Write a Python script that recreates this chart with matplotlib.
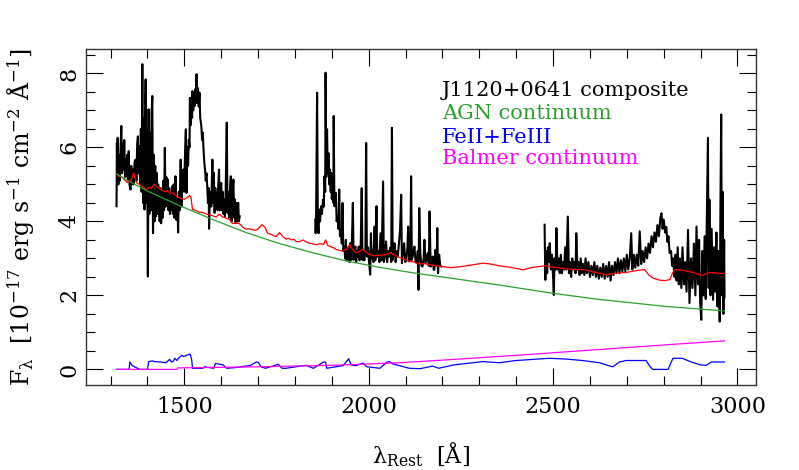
import matplotlib
matplotlib.use("Agg")
import matplotlib.pyplot as plt
from matplotlib.ticker import MultipleLocator

plt.rcParams['font.family'] = ['DejaVu Serif']
plt.rcParams['mathtext.fontset'] = 'dejavuserif'

# observed composite, three wavelength chunks (Angstrom, 1e-17 flux)
wave_1 = [1316, 1317, 1318, 1319, 1321, 1323, 1325, 1327, 1329, 1331, 1333, 1335, 1337, 1339,
          1341, 1343, 1345, 1347, 1349, 1351, 1354, 1356, 1358, 1360, 1362, 1365, 1368, 1370,
          1372, 1374, 1376, 1378, 1380, 1382, 1384, 1386, 1388, 1390, 1392, 1394, 1395, 1397,
          1399, 1401, 1403, 1405, 1407, 1409, 1411, 1413, 1415, 1417, 1419, 1421, 1423, 1425,
          1427, 1429, 1431, 1433, 1435, 1437, 1439, 1441, 1443, 1445, 1447, 1449, 1451, 1453,
          1455, 1457, 1459, 1461, 1463, 1465, 1467, 1469, 1471, 1473, 1476, 1478, 1481, 1483,
          1485, 1487, 1490, 1492, 1494, 1497, 1499, 1502, 1504, 1506, 1508, 1510, 1512, 1514,
          1515, 1517, 1519, 1521, 1522, 1524, 1526, 1528, 1529, 1531, 1533, 1535, 1537, 1539,
          1541, 1543, 1546, 1548, 1550, 1552, 1554, 1556, 1558, 1560, 1562, 1564, 1566, 1567,
          1569, 1571, 1573, 1576, 1578, 1580, 1582, 1584, 1586, 1588, 1590, 1592, 1594, 1596,
          1598, 1600, 1602, 1604, 1606, 1608, 1610, 1612, 1615, 1617, 1619, 1621, 1624, 1626,
          1628, 1630, 1633, 1635, 1637, 1639, 1641, 1643, 1646, 1648, 1650]
flux_1 = [4.41, 6.12, 5.2, 6.26, 5.0, 5.8, 5.1, 6.0, 6.58, 5.3, 6.1, 5.4, 6.2, 5.2,
          5.67, 5.22, 5.8, 5.1, 5.9, 5.0, 4.86, 5.5, 5.0, 5.4, 5.0, 5.6, 5.67, 5.1,
          6.1, 6.3, 5.3, 6.03, 5.0, 6.5, 4.8, 8.25, 4.5, 6.8, 4.32, 7.2, 7.84, 4.5,
          6.5, 2.51, 7.03, 4.2, 6.4, 4.3, 6.9, 7.39, 3.68, 5.8, 4.0, 5.5, 4.14, 5.31,
          4.2, 5.0, 4.59, 4.0, 4.9, 3.95, 4.8, 4.1, 5.1, 4.3, 5.99, 4.4, 5.2, 4.5,
          5.13, 4.3, 4.9, 4.2, 4.77, 4.3, 4.95, 4.2, 5.0, 4.1, 5.22, 4.04, 4.6, 3.7,
          4.8, 4.3, 5.67, 4.4, 5.2, 5.4, 4.8, 5.9, 6.49, 4.77, 6.0, 5.5, 6.21, 6.0,
          7.34, 6.6, 7.1, 6.8, 7.52, 7.0, 7.4, 7.12, 7.57, 7.2, 7.98, 7.21, 7.6, 7.1,
          7.48, 6.8, 6.58, 6.2, 6.4, 5.94, 5.6, 5.4, 5.1, 5.3, 4.95, 4.5, 4.9, 3.8,
          4.59, 4.8, 4.4, 5.67, 4.5, 5.31, 4.23, 4.9, 4.4, 4.77, 4.3, 5.0, 5.4, 4.3,
          4.9, 5.04, 4.3, 4.8, 4.2, 4.59, 4.14, 4.8, 6.67, 4.23, 4.8, 4.1, 4.9, 5.22,
          4.0, 4.7, 5.13, 4.1, 4.6, 3.95, 4.5, 4.0, 4.5, 4.0, 4.14]

wave_2 = [1855, 1856, 1857, 1860, 1862, 1864, 1866, 1868, 1871, 1873, 1876, 1878, 1880, 1882,
          1883, 1885, 1887, 1889, 1891, 1893, 1895, 1897, 1898, 1900, 1902, 1904, 1905, 1907,
          1909, 1911, 1913, 1916, 1918, 1920, 1922, 1925, 1927, 1929, 1931, 1934, 1936, 1938,
          1940, 1943, 1945, 1948, 1950, 1952, 1954, 1957, 1959, 1961, 1964, 1966, 1968, 1970,
          1973, 1975, 1978, 1981, 1983, 1985, 1988, 1991, 1993, 1995, 1998, 2001, 2004, 2006,
          2008, 2011, 2013, 2016, 2018, 2021, 2023, 2026, 2029, 2032, 2035, 2039, 2041, 2044,
          2047, 2050, 2053, 2056, 2059, 2061, 2063, 2065, 2068, 2070, 2073, 2076, 2079, 2082,
          2085, 2088, 2090, 2093, 2096, 2099, 2102, 2105, 2107, 2110, 2113, 2115, 2117, 2120,
          2124, 2127, 2131, 2133, 2135, 2137, 2140, 2143, 2146, 2149, 2151, 2154, 2157, 2160,
          2163, 2165, 2168, 2171, 2174, 2176, 2178, 2181, 2184, 2186, 2188, 2191, 2194, 2197]
flux_2 = [4.05, 3.68, 3.86, 7.48, 3.9, 3.68, 4.32, 4.0, 4.41, 4.2, 4.59, 4.4, 5.22, 4.8,
          8.02, 5.2, 6.49, 5.3, 5.85, 5.0, 5.4, 4.8, 5.31, 4.6, 4.95, 4.5, 6.85, 4.41,
          4.5, 4.77, 4.0, 4.14, 3.8, 4.86, 3.6, 3.77, 3.4, 4.5, 3.2, 3.32, 3.0, 3.5,
          2.95, 3.05, 3.3, 2.9, 3.41, 2.96, 3.3, 4.5, 2.96, 3.2, 3.32, 2.9, 3.2, 3.05,
          3.32, 2.95, 3.2, 4.9, 2.96, 3.2, 2.95, 3.3, 6.12, 3.05, 3.3, 2.9, 2.56, 3.68,
          3.0, 3.23, 2.9, 3.86, 2.95, 4.41, 3.05, 3.2, 2.9, 3.68, 2.95, 5.08, 2.9, 3.05,
          3.46, 2.9, 3.2, 3.05, 3.3, 2.9, 6.53, 2.96, 3.2, 3.41, 2.9, 3.2, 3.05, 3.4,
          3.77, 4.72, 2.87, 3.2, 3.41, 2.9, 2.96, 3.3, 3.86, 2.92, 3.2, 5.22, 2.96, 3.1,
          3.32, 2.9, 2.87, 3.2, 2.15, 4.36, 3.14, 2.8, 2.78, 3.0, 3.5, 2.87, 3.0, 3.14,
          2.8, 4.27, 2.78, 3.0, 3.05, 2.7, 2.69, 3.23, 2.8, 3.82, 2.6, 3.1, 2.8, 2.78]

wave_3 = [2477, 2479, 2481, 2484, 2486, 2489, 2491, 2494, 2497, 2500, 2502, 2504, 2507, 2509,
          2512, 2515, 2518, 2521, 2524, 2527, 2530, 2533, 2536, 2540, 2543, 2546, 2549, 2552,
          2555, 2558, 2561, 2563, 2566, 2569, 2572, 2575, 2578, 2581, 2585, 2588, 2592, 2596,
          2600, 2604, 2608, 2612, 2616, 2620, 2624, 2628, 2632, 2636, 2640, 2644, 2648, 2652,
          2656, 2660, 2664, 2668, 2672, 2676, 2680, 2684, 2688, 2692, 2696, 2700, 2704, 2708,
          2712, 2715, 2719, 2723, 2727, 2731, 2735, 2739, 2743, 2747, 2751, 2755, 2759, 2763,
          2767, 2771, 2775, 2779, 2783, 2787, 2791, 2794, 2797, 2800, 2804, 2807, 2810, 2813,
          2816, 2820, 2823, 2826, 2829, 2832, 2835, 2838, 2841, 2844, 2848, 2851, 2855, 2858,
          2862, 2866, 2870, 2874, 2878, 2882, 2886, 2889, 2893, 2896, 2899, 2902, 2905, 2908,
          2911, 2914, 2917, 2920, 2922, 2924, 2927, 2930, 2934, 2937, 2940, 2943, 2946, 2949,
          2952, 2954, 2956, 2958, 2960, 2962, 2964, 2965]
flux_3 = [3.91, 2.42, 3.2, 2.6, 3.3, 2.9, 3.41, 2.7, 3.1, 2.5, 2.01, 3.0, 2.7, 3.82,
          2.7, 3.0, 2.6, 3.1, 2.6, 2.9, 2.7, 3.3, 2.7, 4.13, 2.6, 2.9, 2.5, 3.0,
          2.7, 2.9, 2.6, 3.68, 2.7, 2.9, 2.55, 3.0, 2.6, 2.85, 2.55, 3.0, 2.6, 2.9,
          2.5, 2.8, 2.55, 2.9, 2.5, 2.8, 2.45, 2.75, 2.5, 2.85, 2.45, 2.8, 2.5, 2.9,
          2.4, 2.8, 2.55, 2.9, 2.6, 3.0, 2.6, 2.95, 2.65, 3.0, 2.65, 3.1, 2.7, 3.0,
          3.68, 2.7, 3.1, 2.75, 3.1, 2.8, 3.73, 2.85, 3.2, 2.9, 3.3, 3.0, 3.4, 3.15,
          3.6, 3.3, 3.7, 3.45, 3.9, 3.6, 4.1, 4.22, 3.8, 4.05, 3.7, 3.85, 3.45, 3.6,
          3.15, 3.2, 2.8, 3.0, 2.5, 3.1, 2.4, 3.3, 2.3, 3.0, 2.2, 3.3, 2.3, 2.9,
          2.1, 3.77, 1.79, 3.0, 2.2, 3.4, 2.0, 3.86, 2.3, 3.5, 1.8, 1.34, 3.2, 2.0,
          3.6, 1.9, 4.0, 6.26, 2.2, 4.59, 2.0, 3.8, 1.88, 3.3, 2.1, 3.7, 1.7, 3.2,
          1.29, 4.5, 6.89, 2.0, 4.8, 1.5, 3.5, 1.95]

# total model (red)
model_wave = [1316, 1322, 1330, 1338, 1345, 1355, 1362, 1370, 1378, 1385, 1397, 1404, 1410, 1418,
              1424, 1430, 1438, 1447, 1455, 1462, 1468, 1474, 1482, 1490, 1500, 1508, 1514, 1518,
              1522, 1530, 1540, 1550, 1560, 1568, 1577, 1586, 1595, 1603, 1610, 1622, 1631, 1640,
              1649, 1658, 1667, 1676, 1685, 1693, 1700, 1710, 1718, 1726, 1737, 1749, 1758, 1766,
              1776, 1783, 1790, 1797, 1803, 1812, 1821, 1830, 1839, 1846, 1853, 1860, 1868, 1878,
              1883, 1889, 1900, 1906, 1912, 1920, 1930, 1940, 1948, 1956, 1966, 1975, 1984, 1993,
              2002, 2015, 2029, 2045, 2061, 2072, 2083, 2095, 2110, 2125, 2137, 2150, 2170, 2185,
              2198, 2222, 2245, 2264, 2285, 2309, 2330, 2354, 2384, 2400, 2418, 2430, 2445, 2462,
              2481, 2500, 2520, 2535, 2560, 2589, 2615, 2644, 2670, 2698, 2720, 2748, 2760, 2771,
              2790, 2805, 2817, 2824, 2830, 2852, 2865, 2880, 2903, 2915, 2925, 2945, 2965]
model_flux = [5.29, 5.22, 5.2, 5.12, 5.05, 5.1, 5.31, 5.05, 5.0, 4.95, 4.86, 4.92, 4.9, 5.0,
              4.95, 4.9, 4.85, 4.8, 4.83, 4.75, 4.78, 4.72, 4.66, 4.62, 4.6, 4.65, 4.7, 4.65,
              4.32, 4.3, 4.25, 4.24, 4.2, 4.18, 4.15, 4.12, 4.2, 4.12, 4.1, 4.05, 3.94, 3.96,
              3.94, 3.85, 3.79, 3.8, 3.78, 3.76, 3.8, 3.91, 3.85, 3.68, 3.64, 3.59, 3.7, 3.6,
              3.52, 3.54, 3.5, 3.52, 3.46, 3.45, 3.5, 3.45, 3.41, 3.4, 3.38, 3.37, 3.4, 3.38,
              3.5, 3.35, 3.3, 3.28, 3.24, 3.22, 3.2, 3.25, 3.37, 3.25, 3.15, 3.2, 3.24, 3.17,
              3.1, 3.07, 3.08, 3.1, 3.15, 3.08, 3.03, 2.98, 2.92, 2.9, 2.85, 2.86, 2.82, 2.8,
              2.78, 2.75, 2.77, 2.8, 2.83, 2.87, 2.85, 2.8, 2.76, 2.73, 2.69, 2.72, 2.76, 2.78,
              2.8, 2.76, 2.74, 2.72, 2.7, 2.69, 2.62, 2.56, 2.6, 2.62, 2.66, 2.7, 2.55, 2.47,
              2.41, 2.4, 2.43, 2.6, 2.7, 2.68, 2.65, 2.62, 2.54, 2.58, 2.62, 2.6, 2.59]

# power-law AGN continuum (green)
agn_wave = [1316, 1351, 1400, 1486, 1577, 1667, 1758, 1849, 1939, 2029, 2120, 2198, 2354, 2497,
            2626, 2807, 2965]
agn_flux = [5.28, 5.08, 4.82, 4.43, 4.05, 3.7, 3.4, 3.15, 2.93, 2.76, 2.61, 2.5, 2.28, 2.06,
            1.89, 1.7, 1.58]

# FeII + FeIII template (blue)
fe_wave = [1316, 1350, 1352, 1358, 1365, 1373, 1380, 1400, 1403, 1413, 1420, 1435, 1450, 1460,
           1465, 1470, 1474, 1480, 1484, 1493, 1497, 1502, 1508, 1516, 1520, 1522, 1550, 1555,
           1580, 1584, 1590, 1605, 1615, 1640, 1680, 1695, 1701, 1708, 1720, 1755, 1758, 1765,
           1775, 1830, 1850, 1878, 1883, 1886, 1930, 1940, 1946, 1952, 1965, 1984, 1995, 2030,
           2050, 2056, 2065, 2110, 2140, 2173, 2190, 2230, 2274, 2309, 2354, 2400, 2445, 2490,
           2535, 2580, 2626, 2645, 2662, 2680, 2698, 2752, 2765, 2771, 2812, 2825, 2850, 2875,
           2900, 2915, 2930, 2965]
fe_flux = [0.0, 0.0, 0.2, 0.11, 0.07, 0.03, 0.0, 0.0, 0.21, 0.23, 0.21, 0.2, 0.18, 0.27,
           0.2, 0.22, 0.3, 0.24, 0.3, 0.38, 0.35, 0.36, 0.39, 0.41, 0.25, 0.03, 0.03, 0.07,
           0.03, 0.16, 0.15, 0.12, 0.03, 0.05, 0.11, 0.2, 0.19, 0.07, 0.03, 0.14, 0.1, 0.03,
           0.03, 0.11, 0.03, 0.2, 0.2, 0.03, 0.1, 0.22, 0.29, 0.12, 0.1, 0.17, 0.07, 0.03,
           0.2, 0.21, 0.15, 0.03, 0.02, 0.09, 0.03, 0.12, 0.17, 0.21, 0.18, 0.24, 0.27, 0.3,
           0.28, 0.24, 0.18, 0.12, 0.07, 0.2, 0.24, 0.24, 0.05, 0.0, 0.0, 0.3, 0.3, 0.2,
           0.12, 0.11, 0.2, 0.2]

# Balmer continuum (magenta)
balmer_wave = [1316, 1480, 1482, 1700, 1900, 2083, 2200, 2400, 2600, 2800, 2965]
balmer_flux = [0.0, 0.0, 0.04, 0.07, 0.11, 0.18, 0.25, 0.38, 0.52, 0.66, 0.77]

fig = plt.figure(figsize=(7.99, 4.70), dpi=100)
ax = fig.add_axes([0.108, 0.181, 0.838, 0.714])

for w, f in [(wave_1, flux_1), (wave_2, flux_2), (wave_3, flux_3)]:
    ax.plot(w, f, color="black", lw=1.5)
ax.plot(model_wave, model_flux, color="red", lw=0.9)
ax.plot(agn_wave, agn_flux, color="#2ca02c", lw=0.9)
ax.plot(fe_wave, fe_flux, color="blue", lw=0.9)
ax.plot(balmer_wave, balmer_flux, color="magenta", lw=0.9)

ax.set_xlim(1234, 3050)
ax.set_ylim(-0.42, 8.65)

ax.xaxis.set_major_locator(MultipleLocator(500))
ax.xaxis.set_minor_locator(MultipleLocator(100))
ax.yaxis.set_major_locator(MultipleLocator(2))
ax.yaxis.set_minor_locator(MultipleLocator(0.5))
ax.tick_params(which="both", direction="in", top=True, right=True, labelsize=16)
ax.tick_params(which="major", length=12, width=0.8)
ax.tick_params(which="minor", length=6.5, width=0.8)
ax.tick_params(axis="x", pad=8)
ax.tick_params(axis="y", pad=4)
for lab in ax.get_yticklabels():
    lab.set_rotation(90)
    lab.set_va("center")
for s in ax.spines.values():
    s.set_linewidth(1.0)
    s.set_color("#333333")

ax.set_xlabel(r"λ$_{\mathrm{Rest}}$  [Å]", fontsize=16)
ax.xaxis.set_label_coords(0.5, -0.165)
ax.set_ylabel(r"F$_{\mathrm{λ}}$  [10$^{-17}$ erg s$^{-1}$ cm$^{-2}$ Å$^{-1}$]", fontsize=17)
ax.yaxis.set_label_coords(-0.074, 0.5)

ax.text(2198, 7.59, "J1120+0641 composite", color="black", fontsize=15, va="center_baseline")
ax.text(2198, 6.96, "AGN continuum", color="#2ca02c", fontsize=15, va="center_baseline")
ax.text(2198, 6.33, "FeII+FeIII", color="blue", fontsize=15, va="center_baseline")
ax.text(2198, 5.75, "Balmer continuum", color="magenta", fontsize=15, va="center_baseline")

fig.savefig("out.png", dpi=100)
